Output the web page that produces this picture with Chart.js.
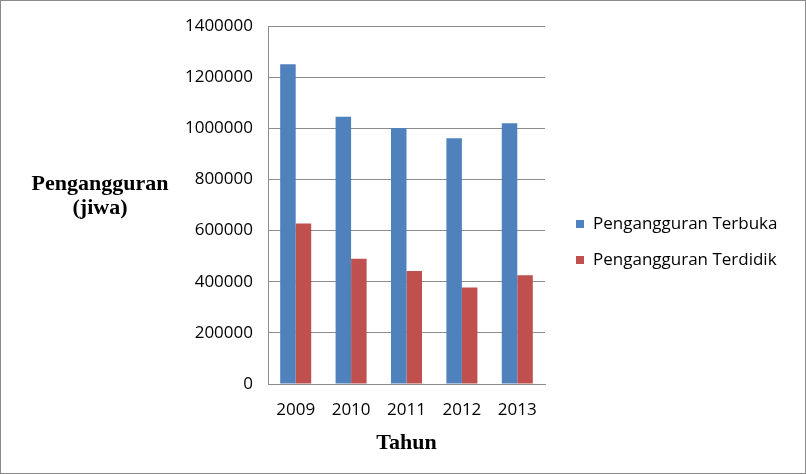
<!DOCTYPE html>
<html>
<head>
<meta charset="utf-8">
<script src="https://cdn.jsdelivr.net/npm/chart.js@4.4.1/dist/chart.umd.min.js"></script>
<style>
  html, body { margin: 0; padding: 0; background: #fff; }
  #wrap { width: 806px; height: 474px; }
</style>
</head>
<body>
<div id="wrap"><canvas id="chart" width="806" height="474"></canvas></div>
<script>
const years = ["2009", "2010", "2011", "2012", "2013"];
const terbuka = [1250000, 1045000, 1001000, 961000, 1020000];
const terdidik = [628000, 490000, 442000, 377000, 425000];
const yTicks = [0, 200000, 400000, 600000, 800000, 1000000, 1200000, 1400000];

const GRID = "#8c8c8c";
const TICK_FONT = { family: "'Open Sans', sans-serif", size: 17 };
const TITLE_FONT = "bold 22px 'Liberation Serif', 'Times New Roman', serif";

// frame, y title and legend drawn on top of the chart
const decor = {
  id: "decor",
  beforeDraw(chart) {
    const c = chart.ctx;
    c.save();
    c.fillStyle = "#fff";
    c.fillRect(0, 0, chart.width, chart.height);
    c.restore();
  },
  afterDraw(chart) {
    const c = chart.ctx;
    c.save();
    c.strokeStyle = "#8a8a8a";
    c.lineWidth = 1;
    c.strokeRect(0.5, 0.5, chart.width - 1, chart.height - 1);

    c.fillStyle = "#000";
    c.font = TITLE_FONT;
    c.textAlign = "center";
    c.textBaseline = "middle";
    c.fillText("Pengangguran", 100, 184);
    c.fillText("(jiwa)", 100, 208);

    c.font = "17px 'Open Sans', sans-serif";
    c.textAlign = "left";
    chart.data.datasets.forEach((ds, i) => {
      const y = 224 + i * 36;
      c.fillStyle = ds.backgroundColor;
      c.fillRect(576, y - 4, 8, 8);
      c.fillStyle = "#000";
      c.fillText(ds.label, 593, y);
    });
    c.restore();
  },
};

new Chart(document.getElementById("chart"), {
  type: "bar",
  data: {
    labels: years,
    datasets: [
      { label: "Pengangguran Terbuka", data: terbuka, backgroundColor: "#4f81bd" },
      { label: "Pengangguran Terdidik", data: terdidik, backgroundColor: "#c0504d" },
    ],
  },
  options: {
    responsive: false,
    animation: false,
    layout: { padding: { left: 0, right: 261, top: 26, bottom: 0 } },
    datasets: { bar: { categoryPercentage: 0.56, barPercentage: 1 } },
    plugins: { legend: { display: false }, tooltip: { enabled: false } },
    scales: {
      x: {
        grid: { display: false, drawTicks: false },
        border: { color: GRID, width: 1 },
        ticks: { color: "#000", font: TICK_FONT, padding: 16, maxRotation: 0 },
        title: {
          display: true,
          text: "Tahun",
          color: "#000",
          font: { family: "'Liberation Serif', 'Times New Roman', serif", size: 22, weight: "bold" },
          padding: { top: 0, bottom: 17 },
        },
        afterFit: (s) => { s.height = 90; },
      },
      y: {
        min: 0,
        max: 1400000,
        afterBuildTicks: (s) => { s.ticks = yTicks.map((v) => ({ value: v })); },
        grid: { color: GRID, drawTicks: false },
        border: { color: GRID, width: 1 },
        ticks: { color: "#000", font: TICK_FONT, padding: 15, callback: (v) => String(v) },
        afterFit: (s) => { s.width = 268; },
      },
    },
  },
  plugins: [decor],
});
</script>
</body>
</html>
